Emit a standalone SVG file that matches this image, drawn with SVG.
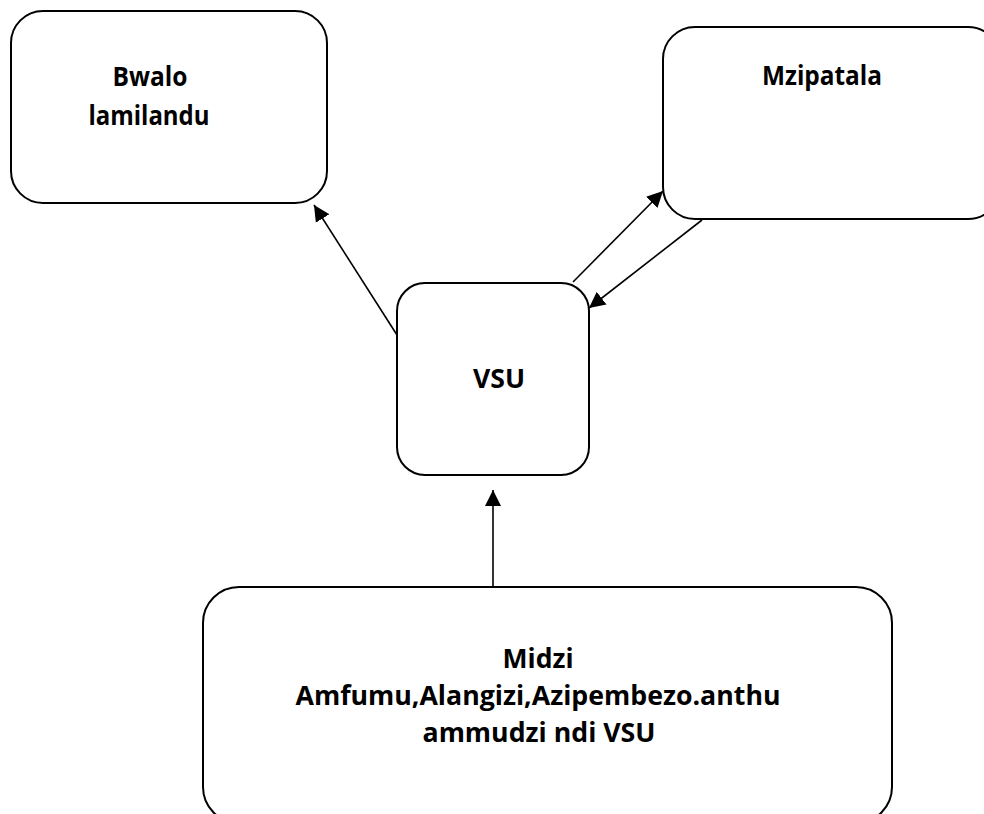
<svg xmlns="http://www.w3.org/2000/svg" width="984" height="814" viewBox="0 0 984 814">
<style>
.box{fill:#fff;stroke:#000;stroke-width:2}
.lbl{font-family:"Open Sans",Lato,"Liberation Sans",sans-serif;font-weight:bold;font-size:26px;fill:#000;text-anchor:middle}
.con{stroke:#000;stroke-width:1.6;fill:none;marker-end:url(#ah)}
</style>
<defs>
<marker id="ah" markerUnits="userSpaceOnUse" markerWidth="17" markerHeight="17" refX="16" refY="8" orient="auto" viewBox="0 0 17 16">
<path d="M0,0 L16,8 L0,16 z" fill="#000"/>
</marker>
</defs>
<rect width="984" height="814" fill="#fff"/>
<g id="connectors">
<line class="con" x1="397" y1="335" x2="314" y2="205"/>
<line class="con" x1="573" y1="282" x2="663" y2="191"/>
<line class="con" x1="702" y1="220" x2="589" y2="308"/>
<line class="con" x1="493" y1="587" x2="493" y2="490"/>
</g>
<g id="node-bwalo">
<rect class="box" x="11" y="11" width="316" height="192" rx="32" ry="32"/>
<text class="lbl" x="150" y="86" textLength="75" lengthAdjust="spacingAndGlyphs">Bwalo</text>
<text class="lbl" x="149" y="125" textLength="121" lengthAdjust="spacingAndGlyphs">lamilandu</text>
</g>
<g id="node-mzipatala">
<rect class="box" x="663" y="27" width="337" height="192" rx="32" ry="32"/>
<text class="lbl" x="822" y="85" textLength="120" lengthAdjust="spacingAndGlyphs">Mzipatala</text>
</g>
<g id="node-vsu">
<rect class="box" x="397" y="283" width="192" height="192" rx="28" ry="28"/>
<text class="lbl" x="499" y="388" textLength="52" lengthAdjust="spacingAndGlyphs">VSU</text>
</g>
<g id="node-midzi">
<rect class="box" x="203" y="587" width="689" height="236" rx="36" ry="36"/>
<text class="lbl" x="538" y="668" textLength="71" lengthAdjust="spacingAndGlyphs">Midzi</text>
<text class="lbl" x="538" y="705" textLength="485" lengthAdjust="spacingAndGlyphs">Amfumu,Alangizi,Azipembezo.anthu</text>
<text class="lbl" x="539" y="742" textLength="233" lengthAdjust="spacingAndGlyphs">ammudzi ndi VSU</text>
</g>
</svg>
